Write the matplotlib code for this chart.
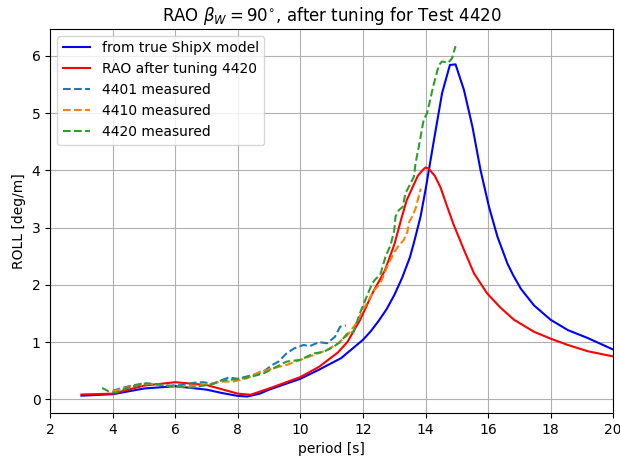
import numpy as np
import matplotlib
matplotlib.use("Agg")
import matplotlib.pyplot as plt

# RAO from true ShipX model
shipx_T = [3.0, 4.0, 5.0, 6.0, 7.0, 7.5, 8.0, 8.3, 8.7, 9.0, 10.0, 10.6, 11.3, 12.0,
           12.25, 12.5, 12.75, 13.0, 13.25, 13.5, 13.65, 13.84, 14.0, 14.27, 14.53,
           14.78, 14.96, 15.23, 15.5, 15.76, 16.03, 16.3, 16.62, 16.8, 17.05, 17.47,
           18.0, 18.55, 19.19, 20.0]
shipx_R = [0.065, 0.09, 0.19, 0.23, 0.17, 0.11, 0.06, 0.05, 0.1, 0.17, 0.36, 0.52, 0.72, 1.04,
           1.19, 1.37, 1.57, 1.82, 2.12, 2.48, 2.78, 3.19, 3.66, 4.53, 5.35,
           5.84, 5.85, 5.4, 4.76, 4.0, 3.36, 2.84, 2.37, 2.17, 1.93, 1.64,
           1.39, 1.21, 1.07, 0.87]

# RAO after tuning
tuned_T = [3.0, 4.0, 5.0, 6.0, 7.0, 7.4, 8.0, 8.4, 9.0, 10.0, 10.6, 11.2, 11.5, 11.9,
           12.3, 12.7, 13.0, 13.25, 13.4, 13.6, 13.75, 13.9, 14.0, 14.1, 14.3, 14.48,
           14.69, 14.9, 15.23, 15.55, 15.97, 16.4, 16.83, 17.47, 18.0, 18.55, 19.19, 20.0]
tuned_R = [0.085, 0.1, 0.24, 0.3, 0.25, 0.19, 0.1, 0.08, 0.19, 0.39, 0.57, 0.82, 1.0, 1.38,
           1.85, 2.25, 2.7, 3.2, 3.48, 3.72, 3.9, 4.0, 4.05, 4.03, 3.9, 3.7,
           3.37, 3.05, 2.61, 2.2, 1.85, 1.6, 1.39, 1.18, 1.06, 0.95, 0.84, 0.75]

# measured 4401
m4401_T = [4.0, 4.3, 4.6, 5.0, 5.4, 5.8, 6.2, 6.6, 6.9, 7.2, 7.5, 7.7, 8.0, 8.5, 8.8,
           9.1, 9.3, 9.55, 9.8, 10.1, 10.3, 10.6, 10.85, 11.1, 11.27, 11.45]
m4401_R = [0.15, 0.2, 0.24, 0.28, 0.26, 0.24, 0.25, 0.29, 0.3, 0.27, 0.34, 0.38, 0.36, 0.43, 0.48,
           0.6, 0.66, 0.8, 0.89, 0.95, 0.93, 1.0, 0.98, 1.09, 1.27, 1.29]

# measured 4410
m4410_T = [4.0, 4.4, 4.8, 5.2, 5.6, 6.0, 6.4, 6.8, 7.2, 7.5, 7.85, 8.3, 8.7, 9.1, 9.55,
           10.0, 10.4, 10.85, 11.2, 11.5, 11.8, 12.0, 12.35, 12.55, 12.77, 12.98,
           13.15, 13.3, 13.42, 13.48, 13.58, 13.68, 13.78, 13.85]
m4410_R = [0.14, 0.2, 0.25, 0.27, 0.25, 0.22, 0.23, 0.25, 0.28, 0.31, 0.31, 0.37, 0.48, 0.54, 0.6,
           0.69, 0.77, 0.86, 0.98, 1.12, 1.34, 1.56, 1.9, 2.02, 2.31, 2.55,
           2.69, 2.78, 2.93, 3.1, 3.2, 3.33, 3.54, 3.68]

# measured 4420
m4420_T = [3.66, 3.9, 4.1, 4.32, 4.64, 5.07, 5.5, 5.82, 6.14, 6.46, 6.89, 7.2, 7.47, 7.96,
           8.38, 8.81, 9.24, 9.56, 10.0, 10.41, 10.74, 11.06, 11.27, 11.5, 11.7, 11.9,
           12.07, 12.29, 12.4, 12.55, 12.72, 12.88, 13.0, 13.04, 13.14, 13.27, 13.36,
           13.52, 13.63, 13.68, 13.78, 13.94, 14.05, 14.27, 14.43, 14.53, 14.73,
           14.85, 14.96]
m4420_R = [0.2, 0.13, 0.12, 0.17, 0.23, 0.28, 0.26, 0.23, 0.22, 0.2, 0.24, 0.27, 0.33, 0.35,
           0.39, 0.45, 0.57, 0.66, 0.69, 0.8, 0.83, 0.92, 1.0, 1.15, 1.18, 1.5,
           1.73, 2.02, 2.1, 2.17, 2.49, 2.69, 2.95, 3.19, 3.3, 3.36, 3.6,
           3.77, 3.89, 4.12, 4.4, 4.88, 5.0, 5.52, 5.84, 5.9, 5.88,
           5.96, 6.17]


def main():
    fig, ax = plt.subplots(figsize=(6.2, 4.58), dpi=100)
    ax.plot(shipx_T, shipx_R, color="blue", label="from true ShipX model")
    ax.plot(tuned_T, tuned_R, color="red", label="RAO after tuning 4420")
    ax.plot(m4401_T, m4401_R, "--", color="C0", label="4401 measured")
    ax.plot(m4410_T, m4410_R, "--", color="C1", label="4410 measured")
    ax.plot(m4420_T, m4420_R, "--", color="C2", label="4420 measured")

    ax.set_xlim(2, 20)
    ax.set_ylim(-0.24, 6.47)
    ax.set_xticks(np.arange(2, 21, 2))
    ax.set_yticks(np.arange(0, 7, 1))
    ax.set_xlabel("period [s]")
    ax.set_ylabel("ROLL [deg/m]")
    ax.set_title(r"RAO $\beta_W = 90^{\circ}$, after tuning for Test 4420")
    ax.grid(True)
    ax.legend(loc="upper left")
    fig.subplots_adjust(left=0.081, right=0.989, bottom=0.098, top=0.937)
    fig.savefig("out.png")


if __name__ == "__main__":
    main()
